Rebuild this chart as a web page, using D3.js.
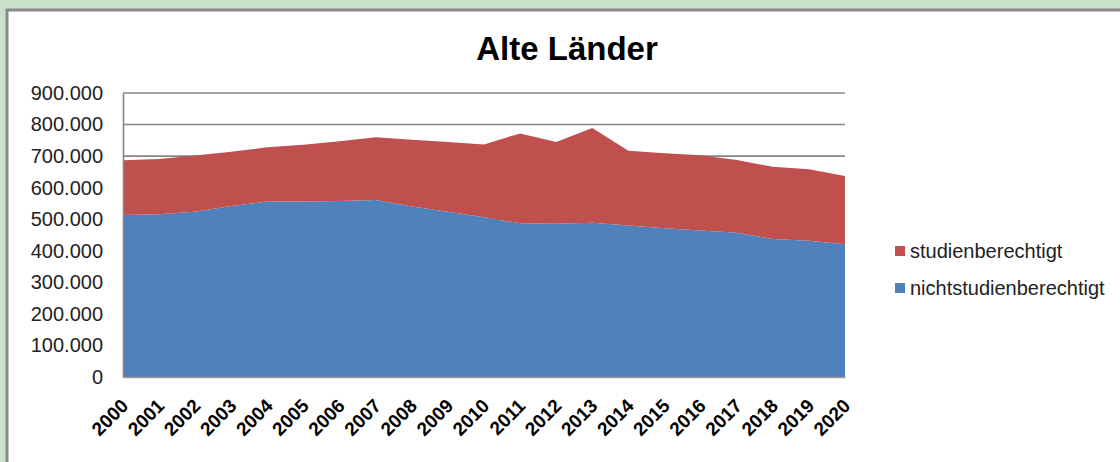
<!DOCTYPE html>
<html>
<head>
<meta charset="utf-8">
<script src="https://cdn.jsdelivr.net/npm/d3@7"></script>
<style>
  body { margin: 0; background: #c9e0c9; }
  svg { display: block; }
</style>
</head>
<body>
<script>
// chart data
var years = ['2000','2001','2002','2003','2004','2005','2006','2007','2008','2009','2010',
             '2011','2012','2013','2014','2015','2016','2017','2018','2019','2020'];
var nichtstudienberechtigt = [513000, 516000, 524000, 542000, 556000, 556000, 558000, 561000, 540000, 524000, 506000,
                              487000, 486000, 489000, 480000, 471000, 464000, 457000, 437000, 432000, 421000];
var studienberechtigt = [174000, 175000, 178000, 172000, 172000, 180000, 189000, 199000, 212000, 221000, 231000,
                         285000, 259000, 300000, 237000, 238000, 239000, 231000, 229000, 226000, 216000];
var yTicks = [0, 100000, 200000, 300000, 400000, 500000, 600000, 700000, 800000, 900000];
var seriesNames = ['nichtstudienberechtigt', 'studienberechtigt'];
var colors = { nichtstudienberechtigt: '#4f81bd', studienberechtigt: '#c0504d' };

var width = 1120, height = 462;
var plotLeft = 123, plotRight = 845, plotTop = 93, plotBottom = 377;

var svg = d3.select('body').append('svg')
  .attr('width', width)
  .attr('height', height);

// white panel with grey frame
svg.append('rect')
  .attr('x', 7).attr('y', 10)
  .attr('width', width).attr('height', height)
  .style('fill', '#fff')
  .style('stroke', '#8a8a8a')
  .style('stroke-width', 3);

var x = d3.scalePoint().domain(years).range([plotLeft, plotRight]);
var y = d3.scaleLinear().domain([0, 900000]).range([plotBottom, plotTop]);

var rows = years.map(function(yr, i) {
  return { year: yr, nichtstudienberechtigt: nichtstudienberechtigt[i], studienberechtigt: studienberechtigt[i] };
});
var stacked = d3.stack().keys(seriesNames)(rows);

// gridlines
svg.append('g')
  .selectAll('line')
  .data(yTicks.slice(1))
  .enter().append('line')
  .attr('x1', plotLeft).attr('x2', plotRight)
  .attr('y1', function(d) { return y(d); })
  .attr('y2', function(d) { return y(d); })
  .style('stroke', '#868686')
  .style('stroke-width', 1.6);

var area = d3.area()
  .x(function(d) { return x(d.data.year); })
  .y0(function(d) { return y(d[0]); })
  .y1(function(d) { return y(d[1]); });

svg.append('g')
  .selectAll('path')
  .data(stacked)
  .enter().append('path')
  .attr('d', area)
  .style('fill', function(d) { return colors[d.key]; });

// y axis
var yAxis = svg.append('g')
  .attr('transform', 'translate(' + plotLeft + ',0)')
  .call(d3.axisLeft(y).tickValues(yTicks).tickSize(0).tickPadding(20)
    .tickFormat(function(d) { return d === 0 ? '0' : d3.format(',')(d).replace(/,/g, '.'); }));
yAxis.select('.domain').style('stroke', '#868686').style('stroke-width', 1.6);
yAxis.selectAll('text')
  .style('font-family', 'Liberation Sans, Arial, sans-serif')
  .style('font-size', '20px')
  .style('fill', '#222');

// x axis
var xAxis = svg.append('g')
  .attr('transform', 'translate(0,' + plotBottom + ')')
  .call(d3.axisBottom(x).tickSize(0).tickPadding(0));
xAxis.select('.domain').style('stroke', '#9a9a9a').style('stroke-width', 1.6);
xAxis.selectAll('text')
  .attr('text-anchor', 'end')
  .attr('dy', 0)
  .attr('transform', 'translate(6,30) rotate(-45)')
  .style('font-family', 'Liberation Sans, Arial, sans-serif')
  .style('font-size', '19px')
  .style('font-weight', 'bold')
  .style('fill', '#000');

// title
svg.append('text')
  .attr('x', 567).attr('y', 60)
  .attr('text-anchor', 'middle')
  .style('font-family', 'Liberation Sans, Arial, sans-serif')
  .style('font-size', '33px')
  .style('font-weight', 'bold')
  .text('Alte Länder');

// legend
var legend = svg.append('g')
  .selectAll('g')
  .data(['studienberechtigt', 'nichtstudienberechtigt'])
  .enter().append('g')
  .attr('transform', function(d, i) { return 'translate(895,' + (246 + i * 37) + ')'; });
legend.append('rect')
  .attr('width', 10).attr('height', 10)
  .style('fill', function(d) { return colors[d]; });
legend.append('text')
  .attr('x', 15).attr('y', 12)
  .style('font-family', 'Liberation Sans, Arial, sans-serif')
  .style('font-size', '20px')
  .style('fill', '#222')
  .text(function(d) { return d; });
</script>
</body>
</html>
